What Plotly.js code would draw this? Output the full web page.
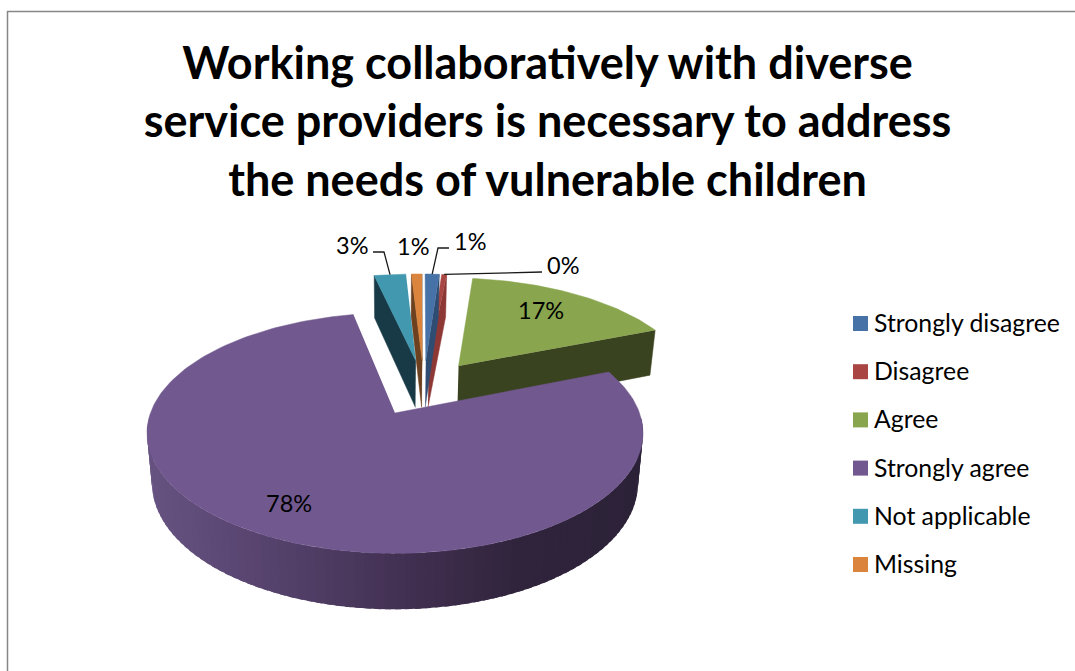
<!DOCTYPE html>
<html>
<head>
<meta charset="utf-8">
<script src="https://cdn.plot.ly/plotly-3.0.1.min.js"></script>
<style>html,body{margin:0;padding:0;background:#fff}</style>
</head>
<body>
<div id="chart" style="width:1075px;height:671px"></div>
<script>
// Survey responses, percent of respondents
const categories = ['Strongly disagree', 'Disagree', 'Agree', 'Strongly agree', 'Not applicable', 'Missing'];
const shares = [1.15, 0.4, 17.1, 77.9, 2.6, 0.85];
const titleLines = [
  'Working collaboratively with diverse',
  'service providers is necessary to address',
  'the needs of vulnerable children'
];

// Colours per category
const topColors = ['#4672a8', '#a94643', '#89a54e', '#71588f', '#4198af', '#db843d'];
const wallColors = ['#2f4d72', '#8e3836', '#3a431f', '#3f2d4e', '#183a46', '#6d411f'];
const rimStops = [[0, '#675381'], [0.3, '#523f68'], [0.55, '#402e4f'], [0.75, '#30243c'], [1, '#2c2238']];

// Pie geometry on the hidden pixel-scaled axes
const firstAngle = 1, radius = 244.5, explode = 63;
const wallBase = 14.5, wallScale = 34.6;
const tilt = 0.478, perspective = 0.000683, floorShrink = 0.98;
const anchorX = 395, anchorY = 413;

// Drawing order: furthest slices first
const drawOrder = [2, 1, 0, 5, 4, 3];

// Label placement (pixels); leader elbows where a slice has a callout
const labelFont = 'Lato, Carlito, sans-serif';
const labelX = [470, 563, 541, 289, 352, 413];
const labelY = [241, 265, 310, 503, 245, 246];
const leaderFrom = [[449, 248], [542, 272], null, null, [373, 252], null];
const leaderElbow = [[438, 248], null, null, null, [384, 252], null];

const legendSwatchX = 860.5, legendTextX = 872, legendTextLift = 1, legendTop = 323.5, legendStep = 48.2;

const rad = d => d * Math.PI / 180;
const total = shares.reduce((a, b) => a + b, 0);
let running = firstAngle;
const spans = shares.map(v => {
  const from = running;
  running += v / total * 360;
  return [from, running];
});

const dir = a => [Math.sin(rad(a)), -Math.cos(rad(a))];
const largest = shares.indexOf(Math.max(...shares));
const apexOf = i => {
  const d = dir((spans[i][0] + spans[i][1]) / 2);
  return [d[0] * explode, d[1] * explode];
};
const reference = apexOf(largest);

// Ground-plane point to screen, z = 0 on the top face and 1 on the floor
function project(X, Y, z) {
  const xa = X - reference[0], ya = Y - reference[1];
  const s = 1 / (1 - perspective * ya);
  return [
    anchorX + xa * s * (z ? floorShrink : 1),
    anchorY + tilt * ya * s + (z ? wallBase + wallScale * s : 0)
  ];
}
function rimPoint(i, a, z) {
  const ap = apexOf(i), d = dir(a);
  return project(ap[0] + d[0] * radius, ap[1] + d[1] * radius, z);
}
function polygon(points, color, stroke) {
  return {
    x: points.map(p => p[0]), y: points.map(p => p[1]),
    type: 'scatter', mode: 'lines', fill: 'toself', fillcolor: color,
    line: { color: color, width: stroke }, hoverinfo: 'skip', showlegend: false
  };
}
function hex(c) { return [1, 3, 5].map(n => parseInt(c.substr(n, 2), 16)); }
function rimColor(t) {
  t = Math.min(1, Math.max(0, t));
  for (let n = 1; n < rimStops.length; n++) {
    if (t <= rimStops[n][0]) {
      const [t0, c0] = rimStops[n - 1], [t1, c1] = rimStops[n];
      const f = (t - t0) / (t1 - t0), a = hex(c0), b = hex(c1);
      return 'rgb(' + a.map((v, j) => Math.round(v + (b[j] - v) * f)).join(',') + ')';
    }
  }
  return rimStops[rimStops.length - 1][1];
}

const traces = [];
drawOrder.forEach(i => {
  const [a0, a1] = spans[i];
  const ap = apexOf(i);
  const radial = a => {
    const top = project(ap[0], ap[1], 0), floor = project(ap[0], ap[1], 1);
    return [top, rimPoint(i, a, 0), rimPoint(i, a, 1), floor];
  };
  // Radial walls that face the viewer
  if (Math.sin(rad(a0)) < 0) traces.push(polygon(radial(a0), wallColors[i], 0.5));
  if (Math.sin(rad(a1)) > 0) traces.push(polygon(radial(a1), wallColors[i], 0.5));
  // Curved outer wall, shaded in overlapping bands painted left to right
  const lo = Math.max(a0, 92), hi = Math.min(a1, 268);
  if (hi > lo) {
    const bands = Math.ceil((hi - lo) / 2);
    for (let b = 0; b < bands; b++) {
      const s0 = hi - (hi - lo) * b / bands;
      const s1 = Math.max(lo, hi - (hi - lo) * (b + 1) / bands - 1.2);
      const pts = [];
      for (let n = 0; n <= 2; n++) pts.push(rimPoint(i, s0 + (s1 - s0) * n / 2, 0));
      for (let n = 2; n >= 0; n--) pts.push(rimPoint(i, s0 + (s1 - s0) * n / 2, 1));
      const mid = rimPoint(i, s0 - (hi - lo) / bands / 2, 0);
      traces.push(polygon(pts, rimColor((mid[0] - 147) / 495), 0));
    }
  }
  // Top face
  const face = [project(ap[0], ap[1], 0)];
  const steps = Math.max(4, Math.ceil((a1 - a0) / 1.5));
  for (let n = 0; n <= steps; n++) face.push(rimPoint(i, a0 + (a1 - a0) * n / steps, 0));
  traces.push(polygon(face, topColors[i], 0.5));
});

// Callout leaders from the labels to the middle of each slice's rim
categories.forEach((c, i) => {
  if (!leaderFrom[i]) return;
  const end = rimPoint(i, (spans[i][0] + spans[i][1]) / 2, 0);
  const pts = [leaderFrom[i]].concat(leaderElbow[i] ? [leaderElbow[i]] : [], [end]);
  traces.push({
    x: pts.map(p => p[0]), y: pts.map(p => p[1]), type: 'scatter', mode: 'lines',
    line: { color: '#1a1a1a', width: 1.3 }, hoverinfo: 'skip', showlegend: false
  });
});

// Legend swatches
categories.forEach((c, i) => {
  traces.push({
    x: [legendSwatchX], y: [legendTop + i * legendStep], name: c,
    type: 'scatter', mode: 'markers',
    marker: { symbol: 'square', size: 15, color: topColors[i] },
    hoverinfo: 'name', showlegend: false
  });
});

const annotations = [];
categories.forEach((c, i) => {
  annotations.push({
    x: labelX[i], y: labelY[i], xref: 'x', yref: 'y', showarrow: false,
    text: Math.round(shares[i]) + '%',
    font: { family: labelFont, size: 23.5, color: '#000' }
  });
  annotations.push({
    x: legendTextX, y: legendTop + i * legendStep - legendTextLift, xref: 'x', yref: 'y', showarrow: false,
    xanchor: 'left', text: c,
    font: { family: labelFont, size: 24.8, color: '#000' }
  });
});

const layout = {
  width: 1075, height: 671,
  margin: { l: 0, r: 0, t: 0, b: 0, pad: 0 },
  paper_bgcolor: '#fff', plot_bgcolor: '#fff',
  showlegend: false,
  title: {
    text: titleLines.join('<br>'),
    font: { family: labelFont, size: 45, color: '#000', weight: 'bold' },
    x: 547.5 / 1075, xanchor: 'center', xref: 'paper',
    y: 0.883, yanchor: 'top', yref: 'paper'
  },
  xaxis: { range: [0, 1075], visible: false, fixedrange: true },
  yaxis: { range: [671, 0], visible: false, fixedrange: true },
  annotations: annotations,
  shapes: [
    { type: 'line', xref: 'x', yref: 'y', x0: 7, y0: 11.5, x1: 1075, y1: 11.5, line: { color: '#868686', width: 1.5 } },
    { type: 'line', xref: 'x', yref: 'y', x0: 7.5, y0: 11, x1: 7.5, y1: 671, line: { color: '#868686', width: 1.5 } }
  ]
};

Plotly.newPlot('chart', traces, layout, { displayModeBar: false, staticPlot: true });
</script>
</body>
</html>
